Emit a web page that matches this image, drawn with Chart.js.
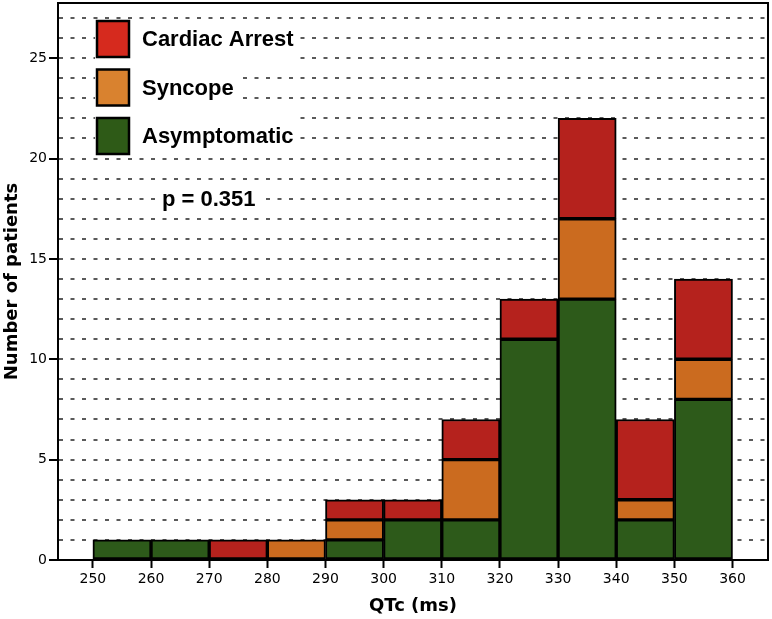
<!DOCTYPE html>
<html>
<head>
<meta charset="utf-8">
<script src="https://cdn.jsdelivr.net/npm/chart.js@4"></script>
<style>
  html, body { margin: 0; padding: 0; background: #fff; }
  #wrap { width: 772px; height: 619px; }
</style>
</head>
<body>
<div id="wrap"><canvas id="c" width="772" height="619"></canvas></div>
<script>
// ---- data ----
const binCenters = [255, 265, 275, 285, 295, 305, 315, 325, 335, 345, 355];
const asymptomatic = [1, 1, 0, 0, 1, 2, 2, 11, 13, 2, 8];
const syncope      = [0, 0, 0, 1, 1, 0, 3, 0, 4, 1, 2];
const cardiacArrest= [0, 0, 1, 0, 1, 1, 2, 2, 5, 4, 4];
const xTickLabels = [250, 260, 270, 280, 290, 300, 310, 320, 330, 340, 350, 360];
const yTickLabels = [0, 5, 10, 15, 20, 25];
const seriesNames = ['Cardiac Arrest', 'Syncope', 'Asymptomatic'];
const pValueText = 'p = 0.351';

// ---- styles ----
const barColors = { 'Cardiac Arrest': '#B5221D', 'Syncope': '#CB6B1F', 'Asymptomatic': '#2D5A1A' };
const legendColors = { 'Cardiac Arrest': '#D62A1E', 'Syncope': '#D9822F', 'Asymptomatic': '#2E5A17' };

function pts(vals) { return binCenters.map((x, i) => ({ x: x, y: vals[i] })); }

const ds = (label, vals) => ({
  label: label,
  data: pts(vals),
  backgroundColor: barColors[label],
  borderColor: '#000',
  borderWidth: 2,
  borderSkipped: false,
  barPercentage: 1,
  categoryPercentage: 1,
  stack: 'all'
});

const overlay = {
  id: 'overlay',
  afterDraw(chart) {
    const ctx = chart.ctx;
    const a = chart.chartArea;
    ctx.save();
    // frame
    ctx.strokeStyle = '#000';
    ctx.lineWidth = 2;
    ctx.beginPath();
    ctx.moveTo(a.left, a.top);
    ctx.lineTo(a.right, a.top);
    ctx.lineTo(a.right, a.bottom);
    ctx.stroke();
    // legend
    ctx.font = 'bold 22px "Liberation Sans", Arial, sans-serif';
    ctx.textBaseline = 'middle';
    const boxX = 97, boxW = 32, boxH = 36, rowGap = 48.5, y0 = 21;
    seriesNames.forEach((name, i) => {
      const top = y0 + i * rowGap;
      const cy = top + boxH / 2;
      const tx = 142;
      const tw = ctx.measureText(name).width;
      ctx.fillStyle = '#fff';
      ctx.fillRect(boxX - 2, top - 2, (tx + tw + 6) - (boxX - 2), boxH + 4);
      ctx.fillStyle = legendColors[name];
      ctx.fillRect(boxX, top, boxW, boxH);
      ctx.lineWidth = 2.5;
      ctx.strokeStyle = '#000';
      ctx.strokeRect(boxX, top, boxW, boxH);
      ctx.fillStyle = '#000';
      ctx.fillText(name, tx, cy + 1);
    });
    // p value
    const pw = ctx.measureText(pValueText).width;
    const py = chart.scales.y.getPixelForValue(18);
    ctx.fillStyle = '#fff';
    ctx.fillRect(156, py - 14, pw + 12, 28);
    ctx.fillStyle = '#000';
    ctx.fillText(pValueText, 162, py + 1);
    ctx.restore();
  }
};

new Chart(document.getElementById('c'), {
  type: 'bar',
  data: {
    datasets: [
      ds('Asymptomatic', asymptomatic),
      ds('Syncope', syncope),
      ds('Cardiac Arrest', cardiacArrest)
    ]
  },
  options: {
    responsive: false,
    animation: false,
    layout: { padding: { top: 3, right: 4, left: 0, bottom: 0 } },
    plugins: { legend: { display: false }, tooltip: { enabled: false } },
    scales: {
      x: {
        type: 'linear',
        offset: false,
        min: 244,
        max: 366.1,
        afterBuildTicks: (s) => { s.ticks = xTickLabels.map(v => ({ value: v })); },
        afterFit: (s) => { s.height = 59; s.paddingLeft = 0; s.paddingRight = 0; },
        ticks: {
          color: '#000',
          padding: 3,
          maxRotation: 0,
          autoSkip: false,
          font: { family: '"DejaVu Sans", sans-serif', size: 14 },
          callback: (v) => String(v)
        },
        grid: {
          offset: false,
          drawOnChartArea: false,
          drawTicks: true,
          tickLength: 8,
          tickColor: '#000',
          tickWidth: 2
        },
        border: { color: '#000', width: 2 },
        title: {
          display: true,
          text: 'QTc (ms)',
          color: '#000',
          font: { family: '"DejaVu Sans", sans-serif', size: 18, weight: 'bold' },
          padding: { top: 0, bottom: 2 }
        }
      },
      y: {
        type: 'linear',
        min: 0,
        max: 27.75,
        stacked: true,
        afterBuildTicks: (s) => {
          const t = [];
          for (let v = 0; v <= 27; v++) t.push({ value: v });
          s.ticks = t;
        },
        afterFit: (s) => { s.width = 58; s.paddingTop = 0; s.paddingBottom = 0; },
        ticks: {
          color: '#000',
          padding: 2,
          autoSkip: false,
          font: { family: '"DejaVu Sans", sans-serif', size: 14 },
          callback: (v) => yTickLabels.includes(v) ? String(v) : ''
        },
        grid: {
          drawOnChartArea: true,
          drawTicks: true,
          tickLength: 9,
          lineWidth: 2,
          color: (c) => (c.tick && c.tick.value === 0) ? 'rgba(0,0,0,0)' : '#5a5a5a',
          tickColor: (c) => (c.tick && yTickLabels.includes(c.tick.value)) ? '#000' : 'rgba(0,0,0,0)',
          tickWidth: 2
        },
        border: { color: '#000', width: 2, dash: [4, 7.5] },
        title: {
          display: true,
          text: 'Number of patients',
          color: '#000',
          font: { family: '"DejaVu Sans", sans-serif', size: 18, weight: 'bold' },
          padding: { top: 2, bottom: 0 }
        }
      }
    }
  },
  plugins: [overlay]
});
</script>
</body>
</html>
